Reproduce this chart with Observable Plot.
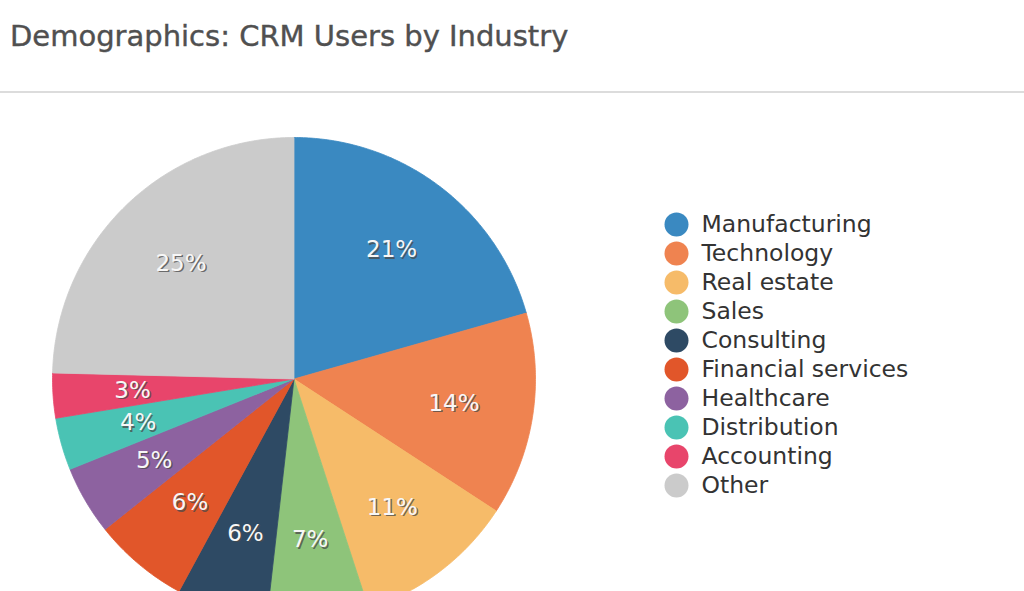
<!DOCTYPE html>
<html><head><meta charset="utf-8">
<script src="https://cdn.jsdelivr.net/npm/d3@7"></script>
<script src="https://cdn.jsdelivr.net/npm/@observablehq/plot@0.6"></script>
<style>
html,body{margin:0;padding:0;background:#fff;width:1024px;height:591px;overflow:hidden;position:relative;}
#title{position:absolute;left:10px;top:19px;font-family:"DejaVu Sans";font-size:29px;color:#505050;-webkit-text-stroke:0.4px #505050;white-space:nowrap;}
#rule{position:absolute;left:0;top:91px;width:1024px;height:2px;background:#dcdcdc;}
#pie{position:absolute;left:0;top:100px;}
#legend{position:absolute;left:640px;top:100px;}
</style></head><body>
<div id="title">Demographics: CRM Users by Industry</div>
<div id="rule"></div>
<div id="pie"></div>
<div id="legend"></div>
<script>
// Data (estimated shares in %; labels show rounded values)
const industries = ["Manufacturing","Technology","Real estate","Sales","Consulting","Financial services","Healthcare","Distribution","Accounting","Other"];
const shares = [20.6, 13.6, 10.8, 6.8, 6.1, 6.4, 4.6, 3.5, 3.0, 24.6];
const colors = ["#3a89c1","#ef8350","#f6bb69","#8ec47a","#2e4a64","#e1562a","#8d62a0","#4ac3b4","#e8456b","#cbcbcb"];

const rows = industries.map((name, i) => ({name, value: shares[i]}));
const arcs = d3.pie().sort(null).value(d => d.value)(rows);

// polygon outline of each slice (unit radius, angle 0 at top, clockwise)
const outline = [];
for (const a of arcs) {
  const name = a.data.name;
  outline.push({name, x: 0, y: 0});
  const n = Math.max(2, Math.ceil((a.endAngle - a.startAngle) / 0.01));
  for (let k = 0; k <= n; k++) {
    const t = a.startAngle + (a.endAngle - a.startAngle) * k / n;
    outline.push({name, x: Math.sin(t), y: Math.cos(t)});
  }
  outline.push({name, x: 0, y: 0});
}
const labelR = 0.67;
const labels = arcs.map(a => {
  const m = (a.startAngle + a.endAngle) / 2;
  return {name: a.data.name, x: labelR * Math.sin(m), y: labelR * Math.cos(m), text: Math.round(a.data.value) + "%"};
});

const pie = Plot.plot({
  width: 600, height: 491,
  style: {background: "transparent", overflow: "hidden"},
  x: {domain: [-1, 1], range: [52, 535], axis: null},
  y: {domain: [-1, 1], range: [520, 37], axis: null},
  color: {domain: industries, range: colors},
  marks: [
    Plot.line(outline, {x: "x", y: "y", z: "name", fill: "name", stroke: "name", strokeWidth: 0.8}),
    Plot.text(labels, {x: "x", y: "y", text: "text", dx: 1.5, dy: 1.5, fill: "#4a4a4a", fillOpacity: 0.75, fontSize: 23, fontFamily: "DejaVu Sans"}),
    Plot.text(labels, {x: "x", y: "y", text: "text", fill: "#f7f7f7", fontSize: 23, fontFamily: "DejaVu Sans"})
  ]
});
document.getElementById("pie").appendChild(pie);

const legend = Plot.plot({
  width: 384, height: 420,
  style: {background: "transparent", overflow: "visible"},
  x: {domain: [0, 1], range: [36, 336], axis: null},
  y: {type: "point", domain: industries, range: [123.3, 385], padding: 0, axis: null},
  color: {domain: industries, range: colors},
  marks: [
    Plot.dot(industries, {x: () => 0, y: d => d, fill: d => d, r: 12}),
    Plot.text(industries, {x: () => 0, y: d => d, text: d => d, dx: 25, textAnchor: "start", fontSize: 23.5, fontFamily: "DejaVu Sans", fill: "#333"})
  ]
});
document.getElementById("legend").appendChild(legend);
</script>
</body></html>
